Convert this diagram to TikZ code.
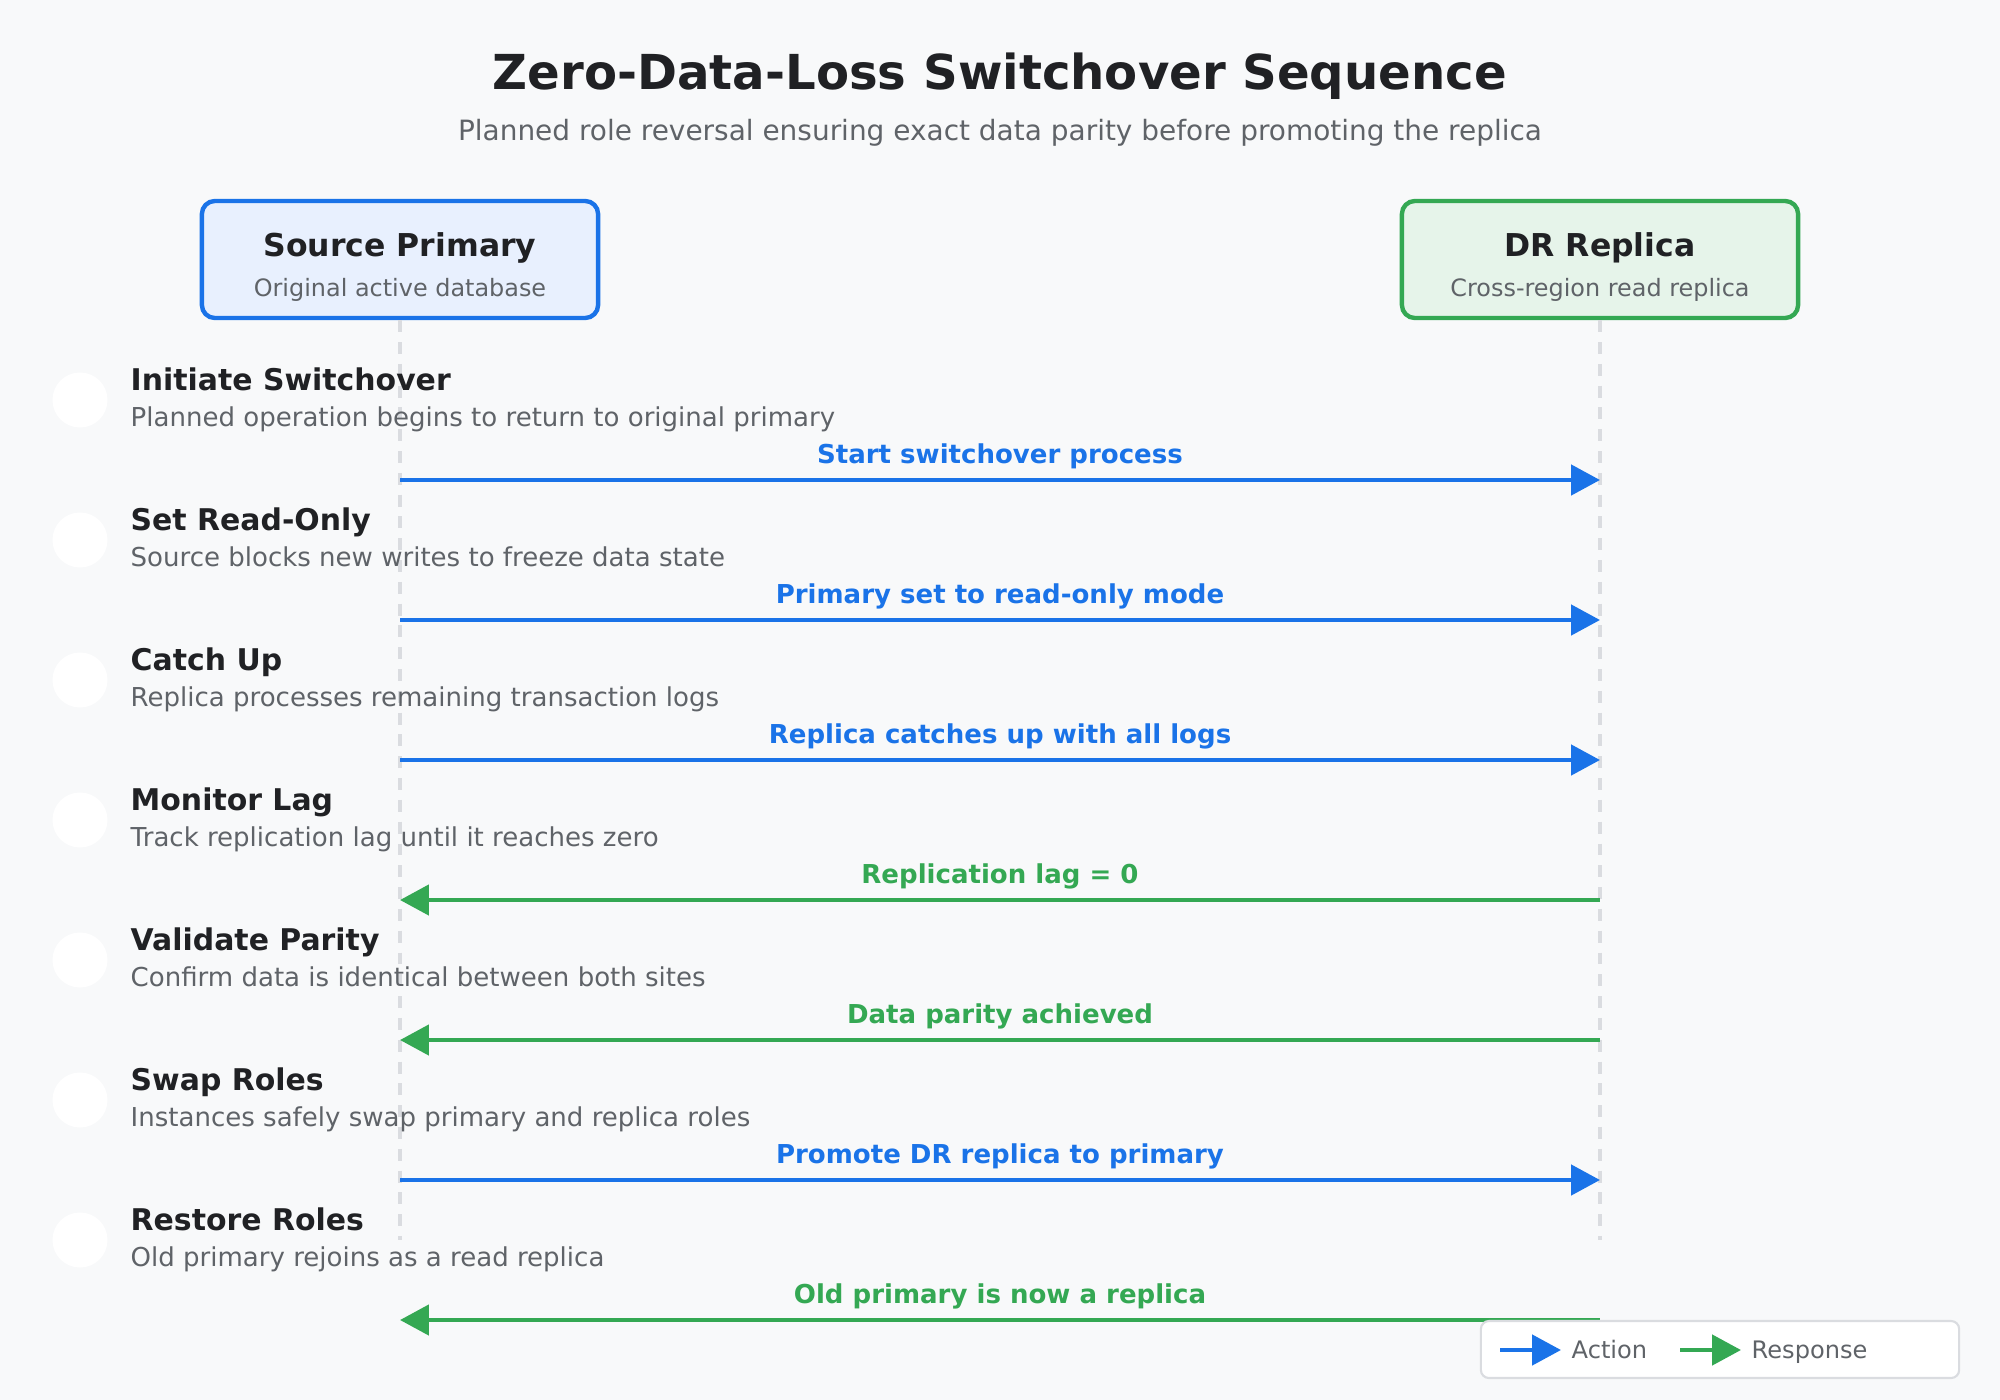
\documentclass[tikz,border=0pt]{standalone}
\usepackage{fontspec}
\setmainfont{DejaVu Sans}
\usepackage{xcolor}
\usepackage{tikz}
\usetikzlibrary{
    positioning,
    arrows.meta,
    calc
}
\definecolor{pageBg}{HTML}{F8F9FA}
\definecolor{inkDark}{HTML}{202124}
\definecolor{inkGray}{HTML}{5F6368}
\definecolor{actBlue}{HTML}{1A73E8}
\definecolor{respGreen}{HTML}{34A853}
\definecolor{boxBlue}{HTML}{E8F0FE}
\definecolor{boxGreen}{HTML}{E6F4EA}
\definecolor{laneGray}{HTML}{DADCE0}

\tikzset{
    hdr/.style={rounded corners=3.7pt, line width=1.25pt, minimum width=3.96cm, minimum height=1.17cm},
    hdrttl/.style={anchor=base, inner sep=0pt, text=inkDark, font=\bfseries\fontsize{8.95}{10}\selectfont},
    hdrsub/.style={anchor=base, inner sep=0pt, text=inkGray, font=\fontsize{6.8}{9}\selectfont},
    lane/.style={laneGray, line width=1pt, dash pattern=on 3.4pt off 2.8pt},
    dot/.style={circle, fill=white, inner sep=0pt, minimum size=0.55cm},
    stepttl/.style={anchor=base west, inner sep=0pt, text=inkDark, font=\bfseries\fontsize{8.5}{10}\selectfont},
    stepdsc/.style={anchor=base west, inner sep=0pt, text=inkGray, font=\fontsize{7.4}{9}\selectfont},
    act/.style={->, draw=actBlue, text=actBlue, line width=1.3pt},
    resp/.style={<-, draw=respGreen, text=respGreen, line width=1.3pt},
    lbl/.style={midway, anchor=base, inner sep=0pt, yshift=4.6pt, font=\bfseries\fontsize{7.4}{9}\selectfont},
    legtxt/.style={anchor=base west, inner sep=0pt, text=inkGray, font=\fontsize{6.85}{9}\selectfont}
}

\begin{document}
\begin{tikzpicture}[x=0.01cm, y=-0.01cm, >={Triangle[length=8.2pt, width=8.5pt]}]
    % Background
    \fill[pageBg] (0,0) rectangle (2000,1400);

    % Heading
    \node[anchor=base, inner sep=0pt, text=inkDark, font=\bfseries\fontsize{13.7}{16}\selectfont] (title) at (1000,90) {Zero-Data-Loss Switchover Sequence};
    \node[anchor=base, inner sep=0pt, text=inkGray, font=\fontsize{7.95}{10}\selectfont] (subtitle) at (1000,141) {Planned role reversal ensuring exact data parity before promoting the replica};

    % Participants
    \node[hdr, draw=actBlue, fill=boxBlue] (src) at (400,259.5) {};
    \node[hdrttl] (srcTtl) at (400,256) {Source Primary};
    \node[hdrsub] (srcSub) at (400,296) {Original active database};
    \node[hdr, draw=respGreen, fill=boxGreen] (dr) at (1600,259.5) {};
    \node[hdrttl] (drTtl) at (1600,256) {DR Replica};
    \node[hdrsub] (drSub) at (1600,296) {Cross-region read replica};

    % Lifelines
    \coordinate (srcEnd) at (400,1240);
    \coordinate (drEnd) at (1600,1240);
    \draw[lane] (src.south) -- (srcEnd);
    \draw[lane] (dr.south) -- (drEnd);

    % Steps and messages
    \foreach \i/\ttl/\dsc/\lbl/\kind in {
        1/Initiate Switchover/Planned operation begins to return to original primary/Start switchover process/act,
        2/Set Read-Only/Source blocks new writes to freeze data state/Primary set to read-only mode/act,
        3/Catch Up/Replica processes remaining transaction logs/Replica catches up with all logs/act,
        4/Monitor Lag/Track replication lag until it reaches zero/Replication lag = 0/resp,
        5/Validate Parity/Confirm data is identical between both sites/Data parity achieved/resp,
        6/Swap Roles/Instances safely swap primary and replica roles/Promote DR replica to primary/act,
        7/Restore Roles/Old primary rejoins as a read replica/Old primary is now a replica/resp}{
        \pgfmathsetmacro{\cy}{400+140*(\i-1)}
        \node[dot] (dot\i) at (80,\cy) {};
        \node[stepttl] (ttl\i) at (130,\cy-10) {\ttl};
        \node[stepdsc] (dsc\i) at (130,\cy+26) {\dsc};
        \coordinate (a\i) at (400,\cy+80);
        \coordinate (b\i) at (1600,\cy+80);
        \draw[\kind] (a\i) -- node[lbl] {\lbl} (b\i);
    }

    % Legend
    \node[draw=laneGray, fill=white, line width=0.6pt, rounded corners=2.3pt, minimum width=4.78cm, minimum height=0.57cm] (legend) at (1720,1349.5) {};
    \coordinate (actFrom) at (1500,1350);
    \coordinate (actTo) at (1561,1350);
    \draw[act] (actFrom) -- (actTo);
    \node[legtxt] (actLbl) at (1571,1358) {Action};
    \coordinate (respFrom) at (1680,1350);
    \coordinate (respTo) at (1741,1350);
    \draw[->, draw=respGreen, line width=1.3pt] (respFrom) -- (respTo);
    \node[legtxt] (respLbl) at (1751,1358) {Response};
\end{tikzpicture}
\end{document}
